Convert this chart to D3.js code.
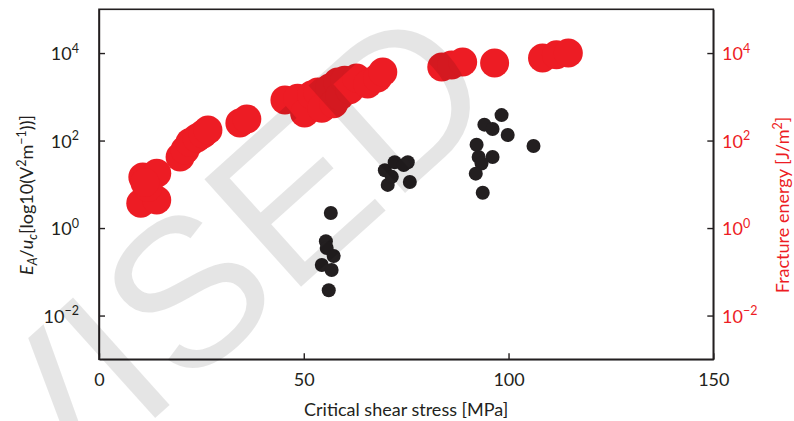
<!DOCTYPE html>
<html>
<head>
<meta charset="utf-8">
<script src="https://cdn.jsdelivr.net/npm/d3@7"></script>
<style>
  body { margin: 0; background: #fff; }
  svg text { font-family: Lato, "Open Sans", sans-serif; }
</style>
</head>
<body>
<div class="chart-wrapper"></div>
<script>
// fracture energy (red, big dots) : shear stress [MPa] vs energy [J/m^2]
const redStress = [10.2, 14.1, 10.7, 14.1, 11.9, 11.2,
  19.8, 21.0, 22.2, 23.9, 25.4, 26.6,
  34.4, 36.1,
  45.4, 48.5, 50.2, 51.9, 53.4, 54.4, 56.3, 57.3, 58.3, 58.8, 60.0, 61.2, 62.9, 65.6, 68.0, 69.3,
  83.7, 86.1, 88.8, 96.6, 108.3, 111.7, 114.6]
const redEnergy = [3.7, 4.4, 14.7, 18, 8.5, 11,
  42, 61, 90, 115, 141, 174,
  251, 309,
  845, 930, 427, 1100, 1290, 550, 1585, 690, 2190, 1050, 2400, 1440, 2700, 1950, 2700, 3700,
  4790, 5340, 6280, 5900, 7740, 9100, 10000]

// E_A/u_c (black, small dots)
const blackStress = [56.6, 55.4, 55.6, 57.3, 54.4, 56.8, 56.1,
  69.8, 70.5, 72.2, 75.4, 75.9, 71.5, 74.4,
  98.3, 94.1, 96.1, 99.8, 92.2, 92.7, 96.1, 93.4, 92.0, 93.7, 106.1]
const blackRatio = [2.2, 0.5, 0.35, 0.23, 0.143, 0.11, 0.038,
  21, 9.7, 32, 32, 11.3, 14.8, 27.5,
  382, 231, 184, 134, 80, 42, 42, 30, 17.5, 6.4, 75]

const xTicks = [0, 50, 100, 150]
const yTicks = [1e-2, 1, 1e2, 1e4]
const yExponents = ['\u22122', '0', '2', '4']

const width = 794, height = 421
const margin = {left: 99, top: 9.3, right: 80, bottom: 61.7}
const ink = '#231f20', red = '#ed1c24'

const svg = d3.select('.chart-wrapper')
.append('svg')
.attr('width', width)
.attr('height', height)

const xScale = d3.scaleLinear()
.domain([0, 150])
.range([margin.left, width - margin.right - 0.7])

const yScale = d3.scaleLog()
.domain([1e-3, 1e5])
.range([height - margin.bottom, margin.top])

const plotW = xScale(150) - xScale(0)
const plotH = yScale(1e-3) - yScale(1e5)

// points
svg.append('g')
.selectAll('circle')
.data(redStress.map((d, i) => ({x: d, y: redEnergy[i]})))
.enter()
.append('circle')
.attr('cx', d => xScale(d.x))
.attr('cy', d => yScale(d.y))
.attr('r', 14.5)
.style('fill', red)

svg.append('g')
.selectAll('circle')
.data(blackStress.map((d, i) => ({x: d, y: blackRatio[i]})))
.enter()
.append('circle')
.attr('cx', d => xScale(d.x))
.attr('cy', d => yScale(d.y))
.attr('r', 7)
.style('fill', ink)

// axes
const xaxis = svg.append('g')
.attr('transform', `translate(0,${yScale(1e-3)})`)
.call(d3.axisBottom(xScale).tickValues(xTicks).tickSizeInner(-6).tickSizeOuter(0).tickPadding(14))

xaxis.selectAll('text').style('font-size', '18px').style('fill', ink)

const leftAxis = svg.append('g')
.attr('transform', `translate(${xScale(0)},0)`)
.call(d3.axisLeft(yScale).tickValues(yTicks).tickSizeInner(-6).tickSizeOuter(0).tickPadding(20).tickFormat(''))

const rightAxis = svg.append('g')
.attr('transform', `translate(${xScale(150)},0)`)
.call(d3.axisRight(yScale).tickValues(yTicks).tickSizeInner(-6).tickSizeOuter(0).tickPadding(8).tickFormat(''))

svg.selectAll('.domain, .tick line').style('stroke', ink).style('stroke-width', 1.4)

svg.append('rect')
.attr('x', xScale(0))
.attr('y', yScale(1e5))
.attr('width', plotW)
.attr('height', plotH)
.style('fill', 'none')
.style('stroke', ink)
.style('stroke-width', 1.6)

function powerLabel(g, anchorX, anchor, colour) {
	yTicks.forEach((v, i) => {
		const t = g.append('text')
		.attr('x', anchorX)
		.attr('y', yScale(v) + 7)
		.attr('text-anchor', anchor)
		.style('font-size', '18px')
		.style('fill', colour)
		t.append('tspan').text('10')
		t.append('tspan').attr('dy', -7.5).style('font-size', '12.5px').text(yExponents[i])
	})
}

powerLabel(svg.append('g'), 79, 'end', ink)
powerLabel(svg.append('g'), 722, 'start', red)

// axis titles
svg.append('text')
.attr('x', (xScale(0) + xScale(150)) / 2)
.attr('y', 416)
.attr('text-anchor', 'middle')
.style('font-size', '18px')
.style('fill', ink)
.text('Critical shear stress [MPa]')

const ylab = svg.append('text')
.attr('transform', 'translate(33,195) rotate(-90)')
.attr('text-anchor', 'middle')
.style('font-size', '18px')
.style('fill', ink)
ylab.append('tspan').style('font-style', 'italic').text('E')
ylab.append('tspan').attr('dy', 4).style('font-style', 'italic').style('font-size', '12.5px').text('A')
ylab.append('tspan').attr('dy', -4).text('/')
ylab.append('tspan').style('font-style', 'italic').text('u')
ylab.append('tspan').attr('dy', 4).style('font-style', 'italic').style('font-size', '12.5px').text('c')
ylab.append('tspan').attr('dy', -4).text('[log10(V')
ylab.append('tspan').attr('dy', -7.5).style('font-size', '12.5px').text('2')
ylab.append('tspan').attr('dy', 7.5).text('m')
ylab.append('tspan').attr('dy', -7.5).style('font-size', '12.5px').text('\u22121')
ylab.append('tspan').attr('dy', 7.5).text('))]')

const rlab = svg.append('text')
.attr('transform', 'translate(789,205) rotate(-90)')
.attr('text-anchor', 'middle')
.style('font-size', '18px')
.style('fill', red)
rlab.append('tspan').text('Fracture energy [J/m')
rlab.append('tspan').attr('dy', -7.5).style('font-size', '12.5px').text('2')
rlab.append('tspan').attr('dy', 7.5).text(']')

// watermark on top
svg.append('text')
.attr('transform', 'translate(505,103) rotate(-42)')
.attr('text-anchor', 'end')
.style('font-family', '"Liberation Sans", Arial, sans-serif')
.style('font-size', '210px')
.style('fill', '#000')
.style('fill-opacity', 0.1)
.text('REVISED')
</script>
</body>
</html>
